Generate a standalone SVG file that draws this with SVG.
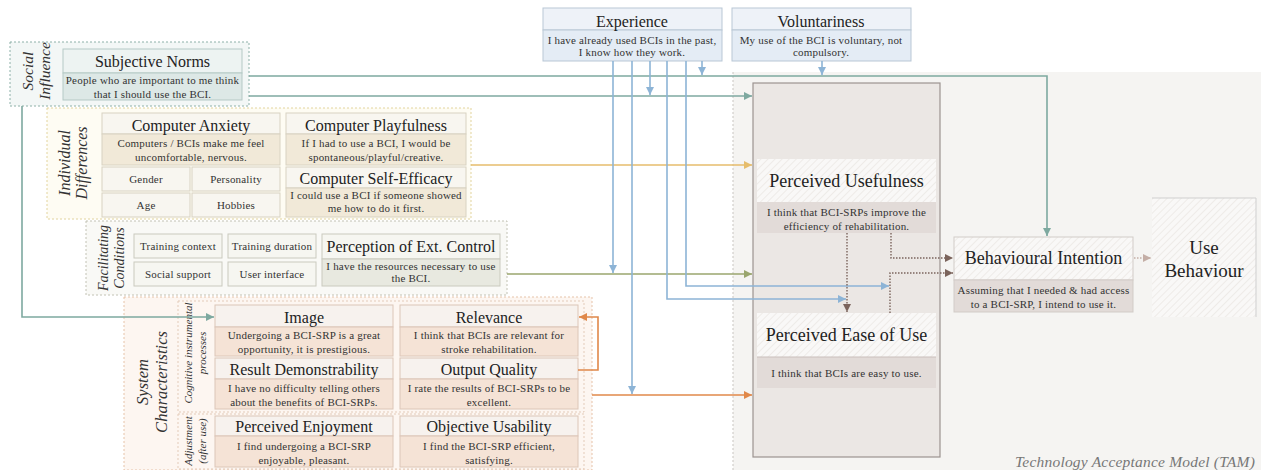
<svg xmlns="http://www.w3.org/2000/svg" width="1261" height="470" viewBox="0 0 1261 470">
<defs>
<pattern id="hatch" width="5" height="5" patternUnits="userSpaceOnUse" patternTransform="rotate(45)">
<rect width="5" height="5" fill="#f9f8f7"/><line x1="0" y1="0" x2="0" y2="5" stroke="#ebe7e4" stroke-width="1.5"/>
</pattern>
<marker id="aT" viewBox="0 0 8 8" refX="8" refY="4" markerWidth="8" markerHeight="8" markerUnits="userSpaceOnUse" orient="auto"><path d="M0,0 L8,4 L0,8 z" fill="#7ea9a0"/></marker>
<marker id="aB" viewBox="0 0 8 8" refX="8" refY="4" markerWidth="8" markerHeight="8" markerUnits="userSpaceOnUse" orient="auto"><path d="M0,0 L8,4 L0,8 z" fill="#8db4d6"/></marker>
<marker id="aY" viewBox="0 0 8 8" refX="8" refY="4" markerWidth="8" markerHeight="8" markerUnits="userSpaceOnUse" orient="auto"><path d="M0,0 L8,4 L0,8 z" fill="#e6bd6c"/></marker>
<marker id="aO" viewBox="0 0 8 8" refX="8" refY="4" markerWidth="8" markerHeight="8" markerUnits="userSpaceOnUse" orient="auto"><path d="M0,0 L8,4 L0,8 z" fill="#9aa66e"/></marker>
<marker id="aR" viewBox="0 0 8 8" refX="8" refY="4" markerWidth="8" markerHeight="8" markerUnits="userSpaceOnUse" orient="auto"><path d="M0,0 L8,4 L0,8 z" fill="#e0884a"/></marker>
<marker id="aD" viewBox="0 0 8 8" refX="8" refY="4" markerWidth="8" markerHeight="8" markerUnits="userSpaceOnUse" orient="auto"><path d="M0,0 L8,4 L0,8 z" fill="#7b645c"/></marker>
<marker id="aL" viewBox="0 0 8 8" refX="8" refY="4" markerWidth="8" markerHeight="8" markerUnits="userSpaceOnUse" orient="auto"><path d="M0,0 L8,4 L0,8 z" fill="#c4aea6"/></marker>
</defs>
<style>
text{font-family:"Liberation Serif","Times New Roman",serif;fill:#222;text-anchor:middle}
.t{font-size:16px}
.T{font-size:18px}
.d{font-size:11px;fill:#333;letter-spacing:0.2px}
.g{font-style:italic;fill:#333}
.grp{stroke-dasharray:2 2;stroke-width:1}
.c{fill:none;stroke-width:1.6}
.teal{stroke:#7ea9a0}
.blue{stroke:#8db4d6}
.dot{fill:none;stroke:#7b645c;stroke-width:1.4;stroke-dasharray:1.5 1.5}
</style>
<rect width="1261" height="470" fill="#ffffff"/>

<g id="tam">
<rect x="733" y="72" width="528" height="398" fill="#f5f4f2"/>
<line x1="733" y1="72" x2="733" y2="470" stroke="#c9c5c1" stroke-dasharray="2 2"/>
<rect x="753" y="83" width="187" height="374" fill="#ebe7e4" stroke="#9c9390" stroke-width="1.2"/>
<text x="1255" y="467" class="g" style="font-size:15.5px;text-anchor:end;fill:#777;letter-spacing:0.2px">Technology Acceptance Model (TAM)</text>
</g>

<g id="experience">
<rect x="543" y="8" width="179" height="22" fill="#eef2f8" stroke="#b9c7d5"/>
<rect x="543" y="30" width="179" height="31" fill="#e4ecf5" stroke="#b9c7d5"/>
<text x="632" y="26.5" class="t">Experience</text>
<text x="632" y="44" class="d">I have already used BCIs in the past,</text>
<text x="632" y="56" class="d">I know how they work.</text>
</g>
<g id="voluntariness">
<rect x="732" y="8" width="179" height="22" fill="#eef2f8" stroke="#b9c7d5"/>
<rect x="732" y="30" width="179" height="31" fill="#e4ecf5" stroke="#b9c7d5"/>
<text x="821" y="26.5" class="t">Voluntariness</text>
<text x="821" y="44" class="d">My use of the BCI is voluntary, not</text>
<text x="821" y="56" class="d">compulsory.</text>
</g>

<g id="social-influence">
<rect x="10" y="42" width="239" height="64" fill="#f3f7f6" stroke="#8db0a8" class="grp"/>
<text transform="translate(33,71) rotate(-90)" class="g" style="font-size:15.5px">Social</text>
<text transform="translate(50,71) rotate(-90)" class="g" style="font-size:15.5px">Influence</text>
<rect x="63" y="49" width="179" height="24" fill="#edf3f2" stroke="#b5c9c5"/>
<rect x="63" y="73" width="179" height="27" fill="#dde8e6" stroke="#b5c9c5"/>
<text x="152.5" y="66.5" class="t">Subjective Norms</text>
<text x="152.5" y="84" class="d">People who are important to me think</text>
<text x="152.5" y="98" class="d">that I should use the BCI.</text>
</g>

<g id="individual-differences">
<rect x="47" y="108" width="424" height="111" fill="#fefcf3" stroke="#e2d49e" class="grp"/>
<text transform="translate(70,163) rotate(-90)" class="g" style="font-size:16px">Individual</text>
<text transform="translate(87,163) rotate(-90)" class="g" style="font-size:16px">Differences</text>
<rect x="102" y="113" width="178" height="21" fill="#f8f6f0" stroke="#d8d2c2"/>
<rect x="102" y="134" width="178" height="31" fill="#f1e9d8" stroke="#d8d2c2"/>
<text x="191" y="131" class="t">Computer Anxiety</text>
<text x="191" y="147" class="d">Computers / BCIs make me feel</text>
<text x="191" y="161" class="d">uncomfortable, nervous.</text>
<rect x="102" y="167" width="88" height="24" fill="#f8f6f0" stroke="#d8d2c2"/>
<rect x="192" y="167" width="88" height="24" fill="#f8f6f0" stroke="#d8d2c2"/>
<rect x="102" y="193" width="88" height="24" fill="#f8f6f0" stroke="#d8d2c2"/>
<rect x="192" y="193" width="88" height="24" fill="#f8f6f0" stroke="#d8d2c2"/>
<text x="146" y="183" class="d">Gender</text>
<text x="236" y="183" class="d">Personality</text>
<text x="146" y="209" class="d">Age</text>
<text x="236" y="209" class="d">Hobbies</text>
<rect x="286" y="113" width="180" height="21" fill="#f8f6f0" stroke="#d8d2c2"/>
<rect x="286" y="134" width="180" height="31" fill="#f1e9d8" stroke="#d8d2c2"/>
<text x="376" y="131" class="t">Computer Playfulness</text>
<text x="376" y="147" class="d">If I had to use a BCI, I would be</text>
<text x="376" y="161" class="d">spontaneous/playful/creative.</text>
<rect x="286" y="167" width="180" height="21" fill="#f8f6f0" stroke="#d8d2c2"/>
<rect x="286" y="188" width="180" height="29" fill="#f1e9d8" stroke="#d8d2c2"/>
<text x="376" y="184" class="t">Computer Self-Efficacy</text>
<text x="376" y="199" class="d">I could use a BCI if someone showed</text>
<text x="376" y="212" class="d">me how to do it first.</text>
</g>

<g id="facilitating-conditions">
<rect x="86" y="221" width="421" height="74" fill="#f9f9f6" stroke="#c2c2b4" class="grp"/>
<text transform="translate(108,258) rotate(-90)" class="g" style="font-size:14px">Facilitating</text>
<text transform="translate(124,258) rotate(-90)" class="g" style="font-size:14px">Conditions</text>
<rect x="134" y="234" width="88" height="24" fill="#f6f6f1" stroke="#cacabe"/>
<rect x="228" y="234" width="88" height="24" fill="#f6f6f1" stroke="#cacabe"/>
<rect x="134" y="262" width="88" height="24" fill="#f6f6f1" stroke="#cacabe"/>
<rect x="228" y="262" width="88" height="24" fill="#f6f6f1" stroke="#cacabe"/>
<text x="178" y="250" class="d">Training context</text>
<text x="272" y="250" class="d">Training duration</text>
<text x="178" y="278" class="d">Social support</text>
<text x="272" y="278" class="d">User interface</text>
<rect x="322" y="234" width="178" height="25" fill="#f6f6f1" stroke="#cacabe"/>
<rect x="322" y="259" width="178" height="27" fill="#e8e9e0" stroke="#cacabe"/>
<text x="411" y="252" class="t">Perception of Ext. Control</text>
<text x="411" y="270" class="d">I have the resources necessary to use</text>
<text x="411" y="282" class="d">the BCI.</text>
</g>

<g id="system-characteristics">
<rect x="124" y="297" width="468" height="173" fill="#fdf6f1" stroke="#e6c3a9" class="grp"/>
<rect x="178" y="301" width="406" height="111" fill="none" stroke="#e3cbb9" class="grp"/>
<rect x="178" y="414" width="406" height="55" fill="none" stroke="#e3cbb9" class="grp"/>
<text transform="translate(148,382) rotate(-90)" class="g" style="font-size:16.5px">System</text>
<text transform="translate(167,382) rotate(-90)" class="g" style="font-size:16.5px">Characteristics</text>
<text transform="translate(192,353) rotate(-90)" class="g" style="font-size:11px">Cognitive instrumental</text>
<text transform="translate(206,353) rotate(-90)" class="g" style="font-size:11px">processes</text>
<text transform="translate(192,441) rotate(-90)" class="g" style="font-size:11px">Adjustment</text>
<text transform="translate(206,441) rotate(-90)" class="g" style="font-size:11px">(after use)</text>
</g>
<g id="image">
<rect x="215" y="305" width="178" height="22" fill="#f7f2ee" stroke="#dcc6b8"/>
<rect x="215" y="327" width="178" height="29" fill="#f5e3d6" stroke="#dcc6b8"/>
<text x="304" y="322.5" class="t">Image</text>
<text x="304" y="339" class="d">Undergoing a BCI-SRP is a great</text>
<text x="304" y="353" class="d">opportunity, it is prestigious.</text>
</g>
<g id="relevance">
<rect x="400" y="305" width="178" height="22" fill="#f7f2ee" stroke="#dcc6b8"/>
<rect x="400" y="327" width="178" height="29" fill="#f5e3d6" stroke="#dcc6b8"/>
<text x="489" y="322.5" class="t">Relevance</text>
<text x="489" y="339" class="d">I think that BCIs are relevant for</text>
<text x="489" y="353" class="d">stroke rehabilitation.</text>
</g>
<g id="result-demonstrability">
<rect x="215" y="358" width="178" height="21" fill="#f7f2ee" stroke="#dcc6b8"/>
<rect x="215" y="379" width="178" height="30" fill="#f5e3d6" stroke="#dcc6b8"/>
<text x="304" y="375" class="t">Result Demonstrability</text>
<text x="304" y="392" class="d">I have no difficulty telling others</text>
<text x="304" y="406" class="d">about the benefits of BCI-SRPs.</text>
</g>
<g id="output-quality">
<rect x="400" y="358" width="178" height="21" fill="#f7f2ee" stroke="#dcc6b8"/>
<rect x="400" y="379" width="178" height="30" fill="#f5e3d6" stroke="#dcc6b8"/>
<text x="489" y="375" class="t">Output Quality</text>
<text x="489" y="392" class="d">I rate the results of BCI-SRPs to be</text>
<text x="489" y="406" class="d">excellent.</text>
</g>
<g id="perceived-enjoyment">
<rect x="215" y="416" width="178" height="20" fill="#f7f2ee" stroke="#dcc6b8"/>
<rect x="215" y="436" width="178" height="31" fill="#f5e3d6" stroke="#dcc6b8"/>
<text x="304" y="432" class="t">Perceived Enjoyment</text>
<text x="304" y="450" class="d">I find undergoing a BCI-SRP</text>
<text x="304" y="464" class="d">enjoyable, pleasant.</text>
</g>
<g id="objective-usability">
<rect x="400" y="416" width="178" height="20" fill="#f7f2ee" stroke="#dcc6b8"/>
<rect x="400" y="436" width="178" height="31" fill="#f5e3d6" stroke="#dcc6b8"/>
<text x="489" y="432" class="t">Objective Usability</text>
<text x="489" y="450" class="d">I find the BCI-SRP efficient,</text>
<text x="489" y="464" class="d">satisfying.</text>
</g>

<g id="perceived-usefulness">
<rect x="757" y="159" width="179" height="43" fill="url(#hatch)"/>
<rect x="757" y="202" width="179" height="31" fill="#e2dbd8"/>
<text x="846.5" y="187" class="T">Perceived Usefulness</text>
<text x="846.5" y="216" class="d">I think that BCI-SRPs improve the</text>
<text x="846.5" y="230" class="d">efficiency of rehabilitation.</text>
</g>
<g id="perceived-ease-of-use">
<rect x="757" y="313" width="179" height="44" fill="url(#hatch)"/>
<rect x="757" y="357" width="179" height="31" fill="#e2dbd8"/>
<line x1="757" y1="357" x2="936" y2="357" stroke="#c9bfbb"/>
<text x="846.5" y="341" class="T">Perceived Ease of Use</text>
<text x="846.5" y="377" class="d">I think that BCIs are easy to use.</text>
</g>
<g id="behavioural-intention">
<rect x="954" y="237" width="179" height="43" fill="url(#hatch)" stroke="#d2cbc7"/>
<rect x="954" y="280" width="179" height="32" fill="#e2dbd8" stroke="#d2cbc7"/>
<text x="1043.5" y="264" class="T">Behavioural Intention</text>
<text x="1043.5" y="294" class="d">Assuming that I needed &amp; had access</text>
<text x="1043.5" y="308" class="d">to a BCI-SRP, I intend to use it.</text>
</g>
<g id="use-behaviour">
<rect x="1152" y="198" width="104" height="119" fill="url(#hatch)"/>
<path d="M1152,198 H1256 V317" fill="none" stroke="#cfcfcf"/>
<text x="1204" y="254" class="T" style="font-size:19px">Use</text>
<text x="1204" y="277" class="T" style="font-size:19px">Behaviour</text>
</g>

<g id="connectors">
<path class="c teal" d="M249,76 H1047 V236" marker-end="url(#aT)"/>
<path class="c teal" d="M249,96 H752" marker-end="url(#aT)"/>
<path class="c teal" d="M22,106 V317 H214" marker-end="url(#aT)"/>
<path class="c" stroke="#e6bd6c" d="M471,165 H752" marker-end="url(#aY)"/>
<path class="c" stroke="#9aa66e" d="M507,274 H752" marker-end="url(#aO)"/>
<path class="c" stroke="#e0884a" d="M592,395 H752" marker-end="url(#aR)"/>
<path class="c" stroke="#e0884a" d="M578,370 H598 V317 H579" marker-end="url(#aR)"/>
<path class="c blue" d="M702,61 V75" marker-end="url(#aB)"/>
<path class="c blue" d="M650,61 V95" marker-end="url(#aB)"/>
<path class="c blue" d="M613,61 V273" marker-end="url(#aB)"/>
<path class="c blue" d="M632,61 V394" marker-end="url(#aB)"/>
<path class="c blue" d="M667,61 V299 H846" marker-end="url(#aB)"/>
<path class="c blue" d="M686,61 V286 H889" marker-end="url(#aB)"/>
<path class="c blue" d="M822,61 V75" marker-end="url(#aB)"/>
<path class="dot" d="M847,233 V312" marker-end="url(#aD)"/>
<path class="dot" d="M891,233 V258 H953" marker-end="url(#aD)"/>
<path class="dot" d="M890,313 V273 H953" marker-end="url(#aD)"/>
<path class="dot" style="stroke:#c4aea6" d="M1134,258 H1151" marker-end="url(#aL)"/>
</g>
</svg>
